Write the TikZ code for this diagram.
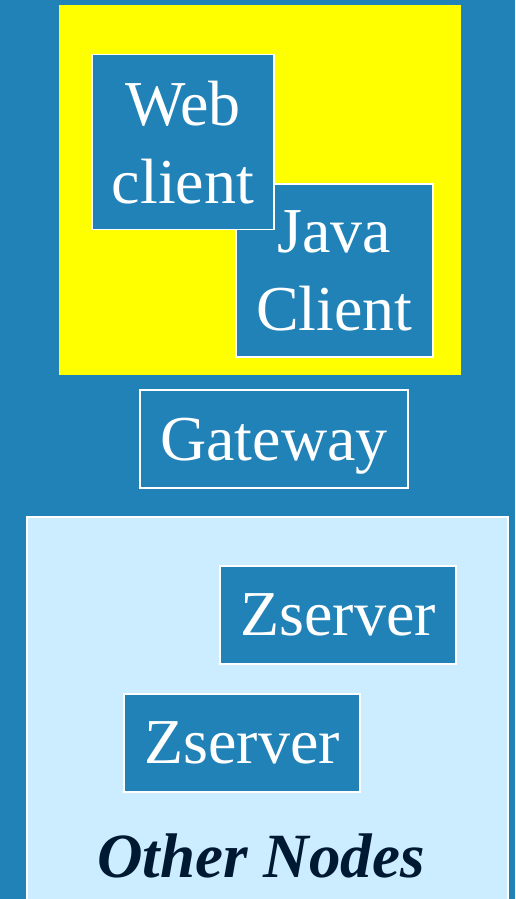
\documentclass[tikz,border=0pt]{standalone}
\usepackage{fontspec}
\setmainfont{Liberation Serif}
\usepackage{tikz}

\definecolor{slideblue}{RGB}{33,130,184}
\definecolor{paleblue}{RGB}{204,236,255}
\definecolor{darknavy}{RGB}{0,25,51}
\definecolor{brightyellow}{RGB}{255,255,0}

\begin{document}
\begin{tikzpicture}[x=1pt,y=-1pt,
        area node/.style={inner sep=0pt,outer sep=0pt},
        comp node/.style={draw=white,line width=1.5pt,fill=slideblue,text=white,align=center,
                          inner sep=0pt,text depth=0pt,font=\fontsize{64}{78}\selectfont}]

    \useasboundingbox (0,0) rectangle (515,899);
    \clip (0,0) rectangle (515,899);
    \fill[slideblue] (0,0) rectangle (515,899);

    % client side
    \node[area node,fill=brightyellow,minimum width=402pt,minimum height=370pt] (clients) at (260,190) {};
    \node[comp node,minimum width=197pt,minimum height=173pt] (java) at (334.5,270.5) {Java\\Client};
    \node[comp node,minimum width=182pt,minimum height=175pt] (web) at (183,142) {Web\\client};

    \node[comp node,minimum width=268pt,minimum height=98pt] (gateway) at (274,439) {Gateway};

    % server side
    \node[area node,draw=white,line width=1.5pt,fill=paleblue,minimum width=481pt,minimum height=400pt] (others) at (267.5,717) {};
    \node[comp node,minimum width=236pt,minimum height=98pt] (zs1) at (338,615) {Zserver};
    \node[comp node,minimum width=236pt,minimum height=98pt] (zs2) at (242,743) {Zserver};
    \node[anchor=base,inner sep=0pt,text=darknavy,font=\fontsize{63}{78}\selectfont\bfseries\itshape] (label) at (261,877) {Other Nodes};

\end{tikzpicture}
\end{document}
